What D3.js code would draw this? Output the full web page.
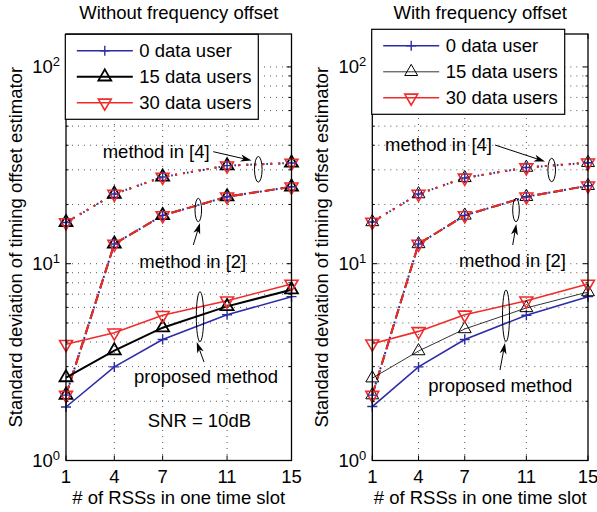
<!DOCTYPE html>
<html>
<head>
<meta charset="utf-8">
<script src="https://cdn.jsdelivr.net/npm/d3@7"></script>
<style>
  body { margin: 0; background: #fff; }
  svg { display: block; font-family: "Liberation Sans", Arial, sans-serif; }
</style>
</head>
<body>
<svg id="chart" width="597" height="512"></svg>
<script>
// x values and tick labels
const rssCounts = [1, 4, 7, 11, 15];
const yMajorTicks = [1, 10, 100];
const yMinorTicks = [2, 3, 4, 5, 6, 7, 8, 9, 20, 30, 40, 50, 60, 70, 80, 90];
const userLabels = ["0 data user", "15 data users", "30 data users"];

// without frequency offset
const propNoFo0 = [1.87, 2.99, 4.12, 5.50, 6.80];
const propNoFo15 = [2.64, 3.62, 4.73, 6.07, 7.38];
const propNoFo30 = [3.90, 4.46, 5.47, 6.48, 7.89];
const ref4NoFo = [16.2, 22.6, 27.6, 31.5, 32.5];
const ref2NoFo = [2.15, 12.6, 17.6, 21.9, 24.6];

// with frequency offset
const propFo0 = [1.88, 2.99, 4.12, 5.47, 6.80];
const propFo15 = [2.62, 3.60, 4.66, 5.96, 7.18];
const propFo30 = [3.92, 4.53, 5.50, 6.48, 7.89];
const ref4Fo = [16.3, 22.6, 27.3, 30.8, 32.6];
const ref2Fo = [2.15, 12.6, 17.6, 21.9, 24.9];

const colors = ["#2c2ca8", "#000000", "#f02b2b"];
const FONT = 18.5;
const plotTop = 34, plotBottom = 460.5;

const svg = d3.select("#chart");

function drawMarker(g, k, px, py, sw) {
  if (k === 0) {
    g.append("path").attr("d", "M-5,0H5M0,-5V5")
      .attr("transform", `translate(${px},${py})`)
      .attr("stroke", colors[0]).attr("stroke-width", 1.4).attr("fill", "none");
  } else {
    g.append("path").attr("d", d3.symbol(d3.symbolTriangle, 72)())
      .attr("transform", `translate(${px},${py})` + (k === 2 ? " rotate(180)" : ""))
      .attr("stroke", colors[k]).attr("stroke-width", sw).attr("fill", "none");
  }
}

function arrow(g, a) {
  const dx = a.x2 - a.x1, dy = a.y2 - a.y1;
  const len = Math.sqrt(dx * dx + dy * dy);
  const ux = dx / len, uy = dy / len;
  const bx = a.x2 - ux * 11, by = a.y2 - uy * 11;
  const nx = a.x2 - ux * 8, ny = a.y2 - uy * 8;
  g.append("line").attr("x1", a.x1).attr("y1", a.y1).attr("x2", nx).attr("y2", ny)
    .attr("stroke", "#000").attr("stroke-width", 1);
  g.append("path")
    .attr("d", `M${a.x2},${a.y2}L${bx - uy * 3.5},${by + ux * 3.5}L${nx},${ny}L${bx + uy * 3.5},${by - ux * 3.5}Z`)
    .attr("fill", "#000");
}

function drawPanel(p) {
  const x = d3.scaleLinear().domain([1, 15]).range([p.left, p.right]);
  const y = d3.scaleLog().domain([1, 147]).range([plotBottom, plotTop]);
  const g = svg.append("g");

  // grid
  g.selectAll(".hgrid").data(yMajorTicks.concat(yMinorTicks).filter(d => d > 1)).join("line")
    .attr("x1", p.left).attr("x2", p.right)
    .attr("y1", d => y(d)).attr("y2", d => y(d))
    .attr("stroke", "#444").attr("stroke-width", 0.9).attr("stroke-dasharray", "1,5");
  g.selectAll(".vgrid").data(rssCounts.filter(d => d > 1 && d < 15)).join("line")
    .attr("x1", d => x(d)).attr("x2", d => x(d))
    .attr("y1", plotTop).attr("y2", plotBottom)
    .attr("stroke", "#444").attr("stroke-width", 0.9).attr("stroke-dasharray", "1,5");

  const line = d3.line().x((d, i) => x(rssCounts[i])).y(d => y(d));
  const widths = [1.6, p.blackWidth, 1.6];

  // reference methods, three overlapping user series each
  const dashes = {
    ref2: [["2,14", -11], ["10,6", 0], ["10,6", 0]],
    ref4: [["1.6,14.4", -4], ["2,6", 0], ["2,6", 0]]
  };
  [[p.ref2, dashes.ref2], [p.ref4, dashes.ref4]].forEach(([vals, dash]) => {
    [0, 1, 2].forEach(k => {
      g.append("path").datum(vals).attr("d", line)
        .attr("fill", "none").attr("stroke", colors[k]).attr("stroke-width", 2)
        .attr("stroke-dasharray", dash[k][0]).attr("stroke-dashoffset", dash[k][1]);
    });
  });

  // proposed method
  p.prop.forEach((vals, k) => {
    g.append("path").datum(vals).attr("d", line)
      .attr("fill", "none").attr("stroke", colors[k]).attr("stroke-width", widths[k]);
  });

  // markers
  [p.ref2, p.ref4].concat(p.prop).forEach((vals, s) => {
    const ks = s < 2 ? [1, 2, 0] : [s - 2];
    ks.forEach(k => vals.forEach((v, i) => drawMarker(g, k, x(rssCounts[i]), y(v), k === 1 ? p.markW : 1.6)));
  });

  // ticks inside the box
  const ax = g.append("g").attr("font-size", FONT);
  [[plotBottom, -5], [plotTop, 5]].forEach(([yy, s]) => {
    ax.selectAll(null).data(rssCounts).join("line")
      .attr("x1", d => x(d)).attr("x2", d => x(d)).attr("y1", yy).attr("y2", yy + s)
      .attr("stroke", "#000").attr("stroke-width", 1);
  });
  [[p.left, 1], [p.right, -1]].forEach(([xx, s]) => {
    ax.selectAll(null).data(yMajorTicks).join("line")
      .attr("x1", xx).attr("x2", xx + s * 5).attr("y1", d => y(d)).attr("y2", d => y(d))
      .attr("stroke", "#000").attr("stroke-width", 1);
    ax.selectAll(null).data(yMinorTicks).join("line")
      .attr("x1", xx).attr("x2", xx + s * 2.5).attr("y1", d => y(d)).attr("y2", d => y(d))
      .attr("stroke", "#000").attr("stroke-width", 1);
  });

  ax.selectAll(".xl").data(rssCounts).join("text")
    .attr("x", d => x(d)).attr("y", 483).attr("text-anchor", "middle").text(d => d);

  const yl = ax.selectAll(".yl").data(yMajorTicks).join("text")
    .attr("x", p.left - 6).attr("y", d => y(d) + 6.5).attr("text-anchor", "end");
  yl.append("tspan").text("10");
  yl.append("tspan").attr("dy", -7.5).attr("font-size", 13).text(d => Math.round(Math.log10(d)));

  // box
  g.append("rect").attr("x", p.left).attr("y", plotTop)
    .attr("width", p.right - p.left).attr("height", plotBottom - plotTop)
    .attr("fill", "none").attr("stroke", "#000").attr("stroke-width", 1.3);

  // titles and labels
  const cx = (p.left + p.right) / 2;
  g.append("text").attr("x", cx).attr("y", 18.5).attr("text-anchor", "middle")
    .attr("font-size", FONT).text(p.title);
  g.append("text").attr("x", cx).attr("y", 504).attr("text-anchor", "middle")
    .attr("font-size", FONT).text("# of RSSs in one time slot");
  g.append("text").attr("transform", `translate(${p.ylabelX},${(plotTop + plotBottom) / 2}) rotate(-90)`)
    .attr("text-anchor", "middle").attr("font-size", FONT)
    .text("Standard deviation of timing offset estimator");

  // legend
  const L = p.legend;
  const lg = g.append("g").attr("transform", `translate(${L.x},${L.y})`);
  lg.append("rect").attr("width", 193).attr("height", 85)
    .attr("fill", "#fff").attr("stroke", "#000").attr("stroke-width", 1.2);
  userLabels.forEach((lab, k) => {
    const ry = 16.5 + k * 26;
    lg.append("line").attr("x1", 11.5).attr("x2", 67.5).attr("y1", ry).attr("y2", ry)
      .attr("stroke", colors[k]).attr("stroke-width", widths[k]);
    drawMarker(lg, k, 39.5, ry, k === 1 ? p.markW : 1.6);
    lg.append("text").attr("x", 74).attr("y", ry + 6.5).attr("font-size", FONT).text(lab);
  });

  // annotations
  p.ellipses.forEach(e => {
    g.append("ellipse").attr("cx", e.cx).attr("cy", e.cy).attr("rx", e.rx).attr("ry", e.ry)
      .attr("fill", "none").attr("stroke", "#000").attr("stroke-width", 1);
  });
  p.arrows.forEach(a => arrow(g, a));
  p.notes.forEach(t => {
    g.append("text").attr("x", t.x).attr("y", t.y).attr("font-size", FONT).text(t.t);
  });
}

drawPanel({
  left: 66, right: 291.5, title: "Without frequency offset", ylabelX: 22,
  blackWidth: 2, markW: 1.8,
  prop: [propNoFo0, propNoFo15, propNoFo30], ref4: ref4NoFo, ref2: ref2NoFo,
  legend: { x: 65.3, y: 34.3 },
  ellipses: [
    { cx: 258.3, cy: 169.3, rx: 3.8, ry: 12.8 },
    { cx: 198.3, cy: 210, rx: 3.3, ry: 11.7 },
    { cx: 200, cy: 316.7, rx: 3.7, ry: 25 }
  ],
  arrows: [
    { x1: 213.3, y1: 151.7, x2: 251.5, y2: 160.5 },
    { x1: 193.3, y1: 245, x2: 200, y2: 223 },
    { x1: 204, y1: 362, x2: 196.7, y2: 342 }
  ],
  notes: [
    { x: 102.7, y: 158.3, t: "method in [4]" },
    { x: 139.3, y: 267.5, t: "method in [2]" },
    { x: 134, y: 383, t: "proposed method" },
    { x: 147.7, y: 426.7, t: "SNR = 10dB" }
  ]
});

drawPanel({
  left: 372.3, right: 588, title: "With frequency offset", ylabelX: 328,
  blackWidth: 0.8, markW: 1,
  prop: [propFo0, propFo15, propFo30], ref4: ref4Fo, ref2: ref2Fo,
  legend: { x: 371.7, y: 29.3 },
  ellipses: [
    { cx: 551.7, cy: 170, rx: 3.8, ry: 11.7 },
    { cx: 516, cy: 210, rx: 3.3, ry: 11.7 },
    { cx: 506, cy: 315.8, rx: 3.5, ry: 25.8 }
  ],
  arrows: [
    { x1: 495, y1: 145, x2: 545, y2: 161.5 },
    { x1: 512.7, y1: 245, x2: 516.3, y2: 224 },
    { x1: 500, y1: 370, x2: 505, y2: 343 }
  ],
  notes: [
    { x: 385, y: 151, t: "method in [4]" },
    { x: 459, y: 267.3, t: "method in [2]" },
    { x: 428.3, y: 391.7, t: "proposed method" }
  ]
});
</script>
</body>
</html>
